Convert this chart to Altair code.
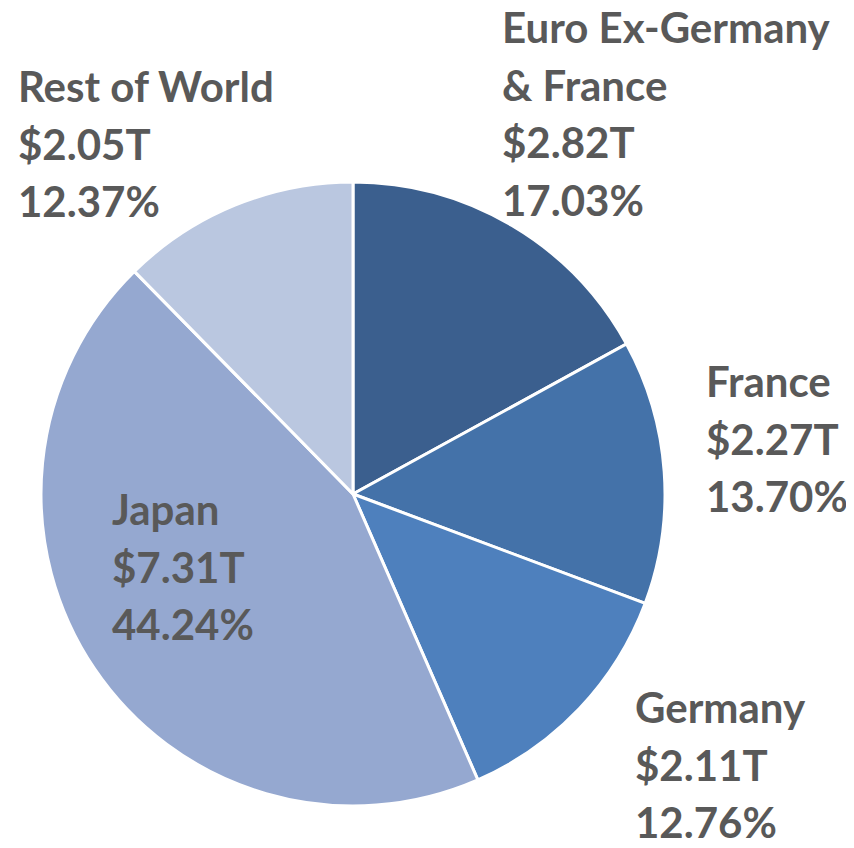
import altair as alt
import pandas as pd

# ---- data ----
categories = ["Euro Ex-Germany & France", "France", "Germany", "Japan", "Rest of World"]
label_names = [["Euro Ex-Germany", "& France"], ["France"], ["Germany"], ["Japan"], ["Rest of World"]]
values_t = [2.82, 2.27, 2.11, 7.31, 2.05]
shares = [17.03, 13.70, 12.76, 44.24, 12.37]
colors = ["#3B5F8E", "#4472A9", "#4E80BD", "#95A8D0", "#BAC7E0"]

# ---- layout (not data) ----
W, H = 838, 832
CX, CY, R = 345, 486, 312
LINE_H = 57.5
label_anchor = {  # left x, first baseline (chart coords)
    "Euro Ex-Germany & France": (494, 35),
    "France": (698, 389),
    "Germany": (627, 715),
    "Japan": (104, 517),
    "Rest of World": (10, 94),
}

df = pd.DataFrame({
    "category": categories,
    "share": shares,
    "idx": list(range(len(categories))),
})

rows = []
for cat, names, v, s in zip(categories, label_names, values_t, shares):
    lines = names + [f"${v:.2f}T", f"{s:.2f}%"]
    x0, y0 = label_anchor[cat]
    for i, t in enumerate(lines):
        rows.append({"x": x0, "y": y0 + i * LINE_H, "text": t})
lab = pd.DataFrame(rows)

pie = alt.Chart(df).mark_arc(outerRadius=R, stroke="white", strokeWidth=3).encode(
    theta=alt.Theta("share:Q", stack=True),
    color=alt.Color("category:N", scale=alt.Scale(domain=categories, range=colors), legend=None),
    order=alt.Order("idx:Q"),
    x=alt.value(CX),
    y=alt.value(CY),
)

labels = alt.Chart(lab).mark_text(
    align="left", baseline="alphabetic", font="Lato", fontWeight="bold",
    fontSize=42, color="#595959",
).encode(
    x=alt.X("x:Q", scale=None, axis=None),
    y=alt.Y("y:Q", scale=None, axis=None),
    text="text:N",
)

chart = alt.layer(pie, labels).properties(
    width=W, height=H, autosize=alt.AutoSizeParams(type="none"), padding=0,
).configure_view(stroke=None)

chart.save("out.html", embed_options={"renderer": "svg", "actions": False})
